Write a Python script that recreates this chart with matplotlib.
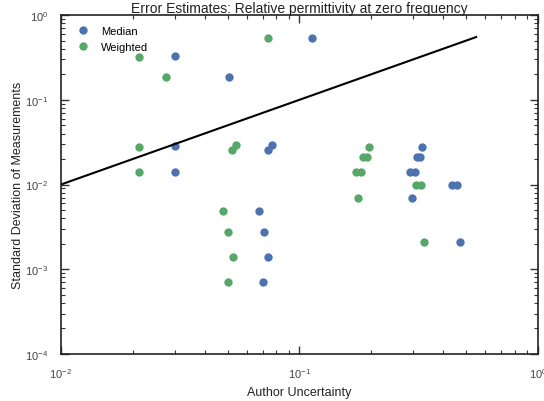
import matplotlib
matplotlib.use("Agg")
import matplotlib.pyplot as plt
from matplotlib.ticker import LogLocator

plt.rcParams['font.family'] = ['Liberation Sans', 'DejaVu Sans']
plt.rcParams['mathtext.default'] = 'regular'

# Median estimates: author uncertainty vs std of measurements
median_x = [0.0301, 0.0506, 0.1127, 0.030, 0.030, 0.0738, 0.0767, 0.0676, 0.071, 0.0738,
            0.070, 0.327, 0.310, 0.320, 0.290, 0.305, 0.4375, 0.456, 0.297, 0.471]
median_y = [0.328, 0.185, 0.535, 0.0285, 0.014, 0.0255, 0.0292, 0.00487, 0.00275, 0.0014,
            0.00071, 0.0277, 0.0211, 0.0211, 0.014, 0.014, 0.00986, 0.00986, 0.00693, 0.00208]

# Weighted estimates
weighted_x = [0.0213, 0.0277, 0.074, 0.0213, 0.0213, 0.0522, 0.0543, 0.048, 0.0504, 0.0526,
              0.0501, 0.195, 0.1854, 0.191, 0.1725, 0.181, 0.308, 0.322, 0.1766, 0.333]
weighted_y = [0.323, 0.187, 0.535, 0.0277, 0.014, 0.0255, 0.0291, 0.00487, 0.00278, 0.0014,
              0.00070, 0.0279, 0.0211, 0.0211, 0.014, 0.014, 0.00986, 0.00986, 0.00693, 0.00208]

line_x = [0.01, 0.55]

fig = plt.figure(figsize=(5.44, 4.02), dpi=100)
ax = fig.add_axes([0.112, 0.117, 0.877, 0.843])

ax.plot(median_x, median_y, 'o', color='#4C72B0', markersize=6, markeredgewidth=0, label='Median')
ax.plot(weighted_x, weighted_y, 'o', color='#55A868', markersize=6, markeredgewidth=0, label='Weighted')
ax.plot(line_x, line_x, color='black', linewidth=1.5)

ax.set_xscale('log')
ax.set_yscale('log')
ax.set_xlim(1e-2, 1e0)
ax.set_ylim(1e-4, 1e0)

ax.xaxis.set_major_locator(LogLocator(base=10, numticks=10))
ax.yaxis.set_major_locator(LogLocator(base=10, numticks=10))

for s in ax.spines.values():
    s.set_color('#222222')
    s.set_linewidth(1.2)
ax.tick_params(which='both', direction='in', top=True, right=True, colors='#333333',
               labelcolor='#444444', labelsize=8)
ax.tick_params(which='major', length=6, width=1, pad=9)
ax.tick_params(which='minor', length=3, width=0.8)

ax.set_title('Error Estimates: Relative permittivity at zero frequency', fontsize=10, color='#222222', pad=2)
ax.set_xlabel('Author Uncertainty', fontsize=9, color='#222222')
ax.set_ylabel('Standard Deviation of Measurements', fontsize=9, color='#222222', labelpad=1)

ax.legend(loc='upper left', frameon=False, fontsize=8, numpoints=1, handletextpad=0.6,
          borderaxespad=0.6)

fig.savefig('out.png', dpi=100)
